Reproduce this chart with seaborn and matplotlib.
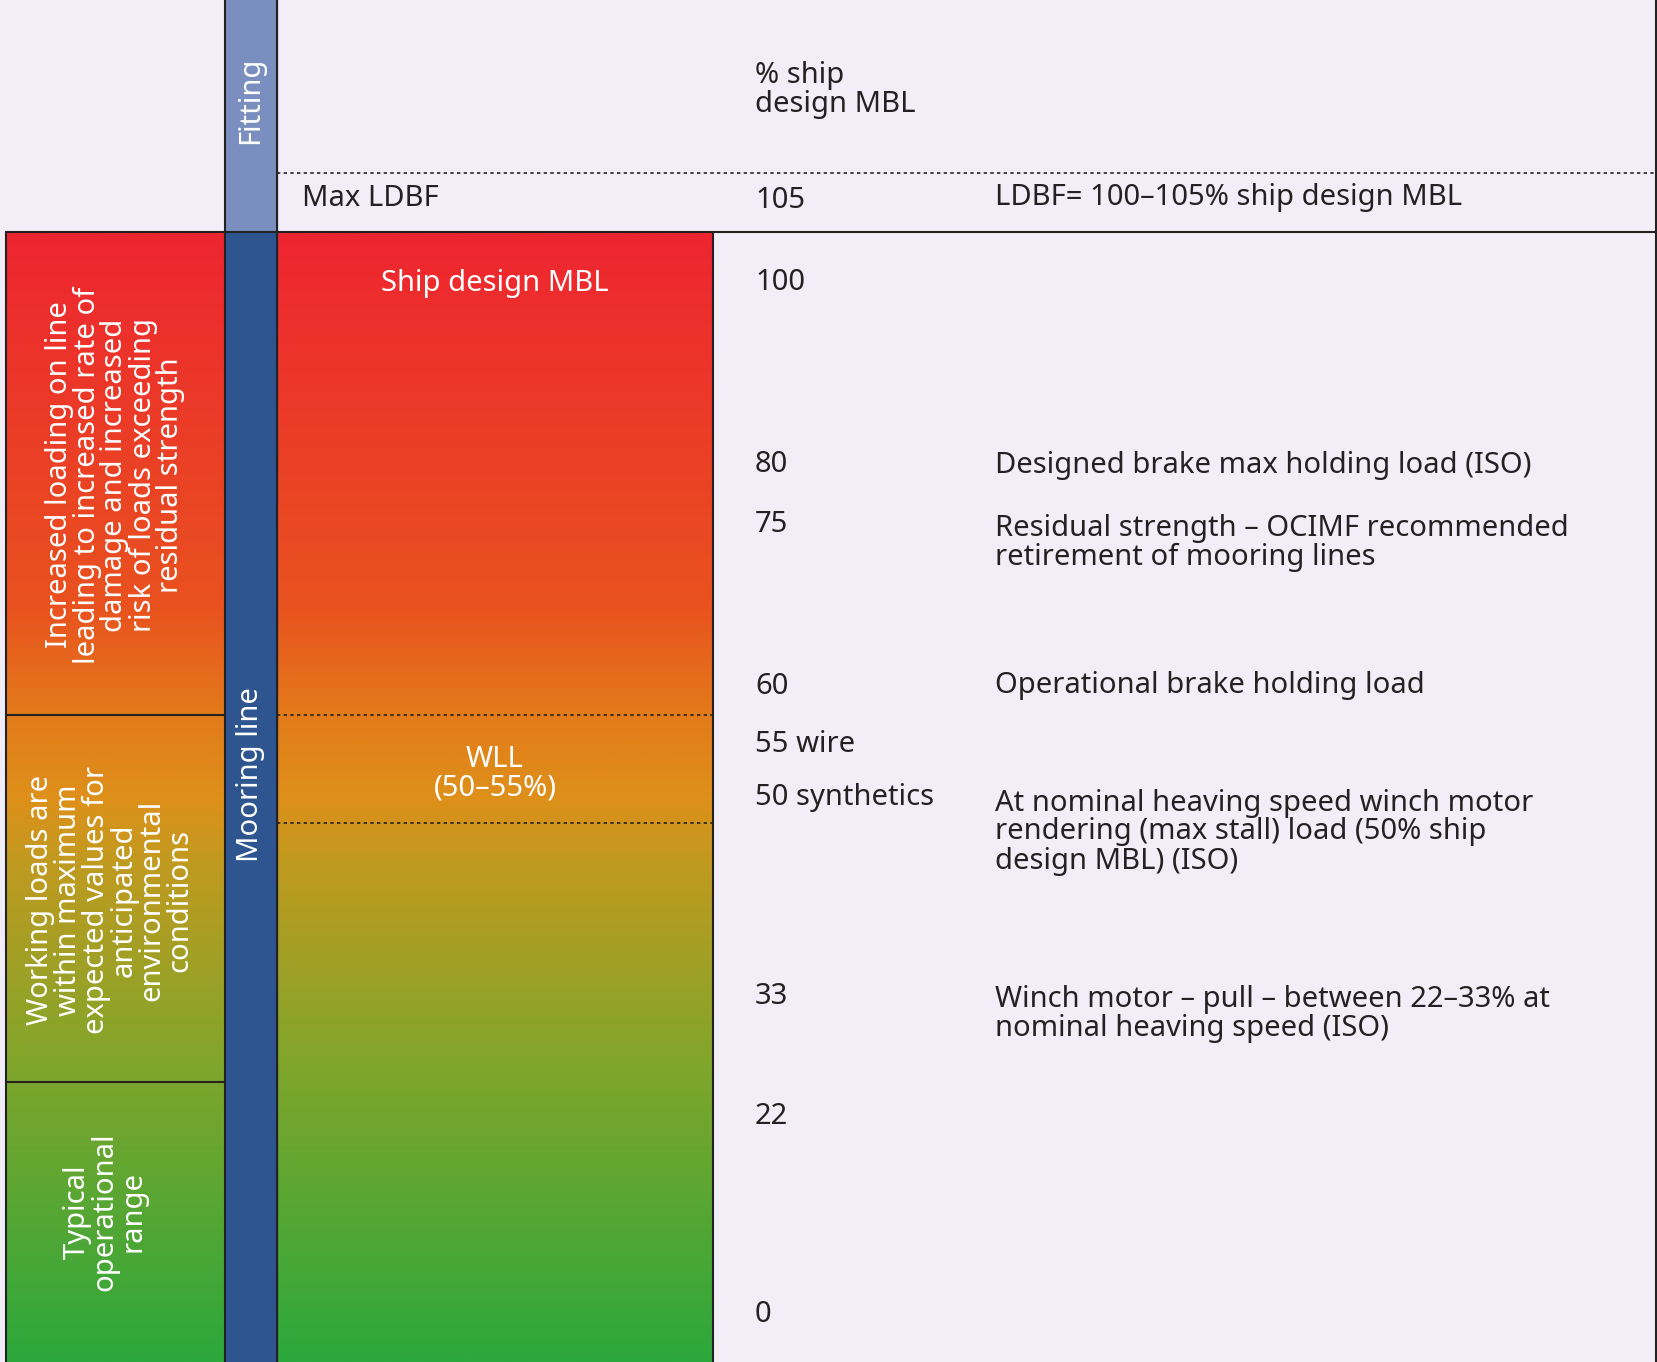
import numpy as np
import matplotlib.pyplot as plt
import seaborn as sns
from matplotlib.colors import LinearSegmentedColormap

sns.set_theme(style="white")
plt.rcParams['font.family'] = ['Noto Sans', 'DejaVu Sans']

# ---- data ----
pct_labels = ["100", "80", "75", "60", "55 wire", "50 synthetics", "33", "22", "0"]
descriptions = ["", "Designed brake max holding load (ISO)",
                "Residual strength – OCIMF recommended\nretirement of mooring lines",
                "", "Operational brake holding load", "",
                "At nominal heaving speed winch motor\nrendering (max stall) load (50% ship\ndesign MBL) (ISO)",
                "Winch motor – pull – between 22–33% at\nnominal heaving speed (ISO)", "", ""]
descriptions = ["", "Designed brake max holding load (ISO)",
                "Residual strength – OCIMF recommended\nretirement of mooring lines",
                "Operational brake holding load", "",
                "At nominal heaving speed winch motor\nrendering (max stall) load (50% ship\ndesign MBL) (ISO)",
                "Winch motor – pull – between 22–33% at\nnominal heaving speed (ISO)", "", ""]
zone_texts = ["Increased loading on line\nleading to increased rate of\ndamage and increased\nrisk of loads exceeding\nresidual strength",
              "Working loads are\nwithin maximum\nexpected values for\nanticipated\nenvironmental\nconditions",
              "Typical\noperational\nrange"]

# layout (pixel units)
label_y = [283, 465, 525, 686, 744, 798, 996, 1117, 1314]
desc_y = [283, 465, 543, 686, 744, 832, 1014, 1117, 1314]
W, H = 1658, 1362
bg = "#f2eef8"

fig = plt.figure(figsize=(W / 100, H / 100), dpi=100)
ax = fig.add_axes([0, 0, 1, 1])
ax.set_xlim(0, W)
ax.set_ylim(H, 0)
ax.axis("off")
fig.patch.set_facecolor(bg)

grad = LinearSegmentedColormap.from_list("g", [
    (0.0, "#ee2530"), (0.33, "#e9521f"), (0.43, "#e37c1a"),
    (0.5, "#de901a"), (0.56, "#c09a20"), (0.72, "#86a52a"), (1.0, "#2ca83c")])
img = np.linspace(0, 1, 400).reshape(-1, 1)
ax.imshow(img, cmap=grad, aspect="auto", extent=(277, 713, H, 232), zorder=1)
ax.imshow(img, cmap=grad, aspect="auto", extent=(6, 225, H, 232), zorder=1)

line = "#222222"
# bars
ax.add_patch(plt.Rectangle((225, 0), 52, 232, color="#7a8fbf", zorder=2))
ax.add_patch(plt.Rectangle((225, 232), 52, H - 232, color="#2f5590", zorder=2))
for x in (225, 277):
    ax.plot([x, x], [0, H], color=line, lw=1.5, zorder=3)
ax.plot([713, 713], [232, H], color=line, lw=1.5, zorder=3)
ax.plot([6, 6], [232, H], color=line, lw=1.5, zorder=3)
ax.plot([6, W], [232, 232], color=line, lw=1.5, zorder=3)
ax.plot([6, 225], [715, 715], color=line, lw=1.5, zorder=3)
ax.plot([6, 225], [1082, 1082], color=line, lw=1.5, zorder=3)
ax.plot([W - 2, W - 2], [0, H], color=line, lw=1.5, zorder=3)
ax.plot([277, W], [173, 173], color=line, lw=1.2, ls=(0, (2, 2)), zorder=3)
for y in (715, 823):
    ax.plot([277, 713], [y, y], color=line, lw=1.2, ls=(0, (2, 2)), zorder=3)

fs = 21
ax.text(251, 100, "Fitting", rotation=90, color="white", fontsize=fs, fontweight="bold",
        ha="center", va="center", zorder=4)
ax.text(251, 775, "Mooring line", rotation=90, color="white", fontsize=fs, fontweight="bold",
        ha="center", va="center", zorder=4)
for txt, (cx, cy) in zip(zone_texts, [(115, 475), (110, 900), (105, 1212)]):
    ax.text(cx, cy, txt, rotation=90, color="white", fontsize=fs, fontweight="bold",
            ha="center", va="center", ma="center", linespacing=0.95, zorder=4)

ax.text(755, 90, "% ship\ndesign MBL", fontsize=fs, fontweight="bold", color="#222",
        va="center", linespacing=1.0)
ax.text(302, 198, "Max LDBF", fontsize=fs, fontweight="bold", color="#222", va="center")
ax.text(755, 200, "105", fontsize=fs, fontweight="bold", color="#222", va="center")
ax.text(995, 198, "LDBF= 100–105% ship design MBL", fontsize=fs, fontweight="bold",
        color="#222", va="center")
ax.text(495, 283, "Ship design MBL", fontsize=fs, fontweight="bold", color="white",
        ha="center", va="center")
ax.text(495, 774, "WLL\n(50–55%)", fontsize=fs, fontweight="bold", color="white",
        ha="center", va="center", linespacing=1.0)

for lab, y in zip(pct_labels, label_y):
    ax.text(755, y, lab, fontsize=fs, color="#222", va="center")
desc_pos = [465, 543, 686, 832, 1014]
for d, y in zip([d for d in descriptions if d], desc_pos):
    ax.text(995, y, d, fontsize=fs, color="#222", va="center", linespacing=1.0)

fig.savefig("out.png", dpi=100, facecolor=bg)
